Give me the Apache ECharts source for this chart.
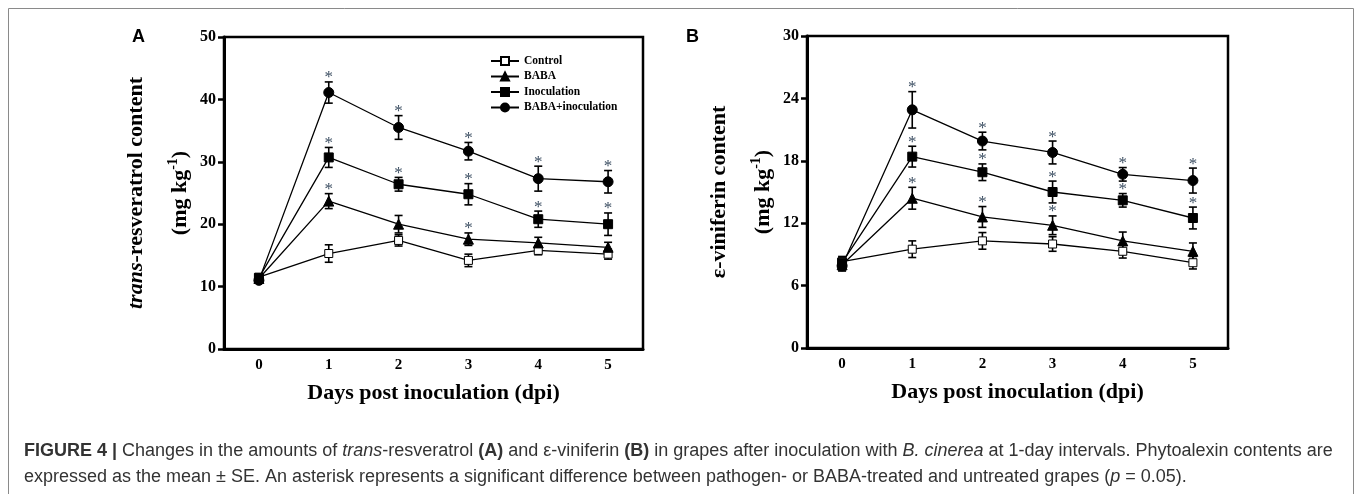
<!DOCTYPE html>
<html>
<head>
<meta charset="utf-8">
<style>
  html, body { margin: 0; padding: 0; background: #fff; }
  #chart { width: 1357px; height: 494px; }
</style>
<script src="https://cdn.jsdelivr.net/npm/echarts@6/dist/echarts.min.js"></script>
</head>
<body>
<div id="chart"></div>
<script>
// x categories (days post inoculation)
const days = ['0', '1', '2', '3', '4', '5'];
const names = ['Control', 'BABA', 'Inoculation', 'BABA+inoculation'];

// A: trans-resveratrol, mean and SE
const resControl = [11.5, 15.3, 17.4, 14.2, 15.8, 15.2];
const resControlErr = [0.4, 1.4, 0.9, 1.0, 0.7, 0.8];
const resBaba = [11.3, 23.7, 20.0, 17.6, 17.0, 16.3];
const resBabaErr = [0.4, 1.2, 1.4, 1.0, 0.9, 0.8];
const resInoc = [11.4, 30.7, 26.4, 24.8, 20.8, 20.0];
const resInocErr = [0.4, 1.6, 1.1, 1.7, 1.3, 1.8];
const resBabaInoc = [11.0, 41.1, 35.5, 31.7, 27.3, 26.8];
const resBabaInocErr = [0.4, 1.7, 1.9, 1.4, 2.0, 1.8];
// asterisks (1 = significant)
const resControlSig = [0, 0, 0, 0, 0, 0];
const resBabaSig = [0, 1, 0, 1, 0, 0];
const resInocSig = [0, 1, 1, 1, 1, 1];
const resBabaInocSig = [0, 1, 1, 1, 1, 1];

// B: ε-viniferin, mean and SE
const vinControl = [8.3, 9.5, 10.3, 10.0, 9.3, 8.2];
const vinControlErr = [0.5, 0.8, 0.8, 0.7, 0.65, 0.6];
const vinBaba = [8.0, 14.4, 12.6, 11.8, 10.3, 9.3];
const vinBabaErr = [0.5, 1.05, 1.0, 0.9, 0.85, 0.8];
const vinInoc = [8.2, 18.4, 16.9, 15.0, 14.2, 12.5];
const vinInocErr = [0.5, 1.0, 0.8, 1.05, 0.65, 1.05];
const vinBabaInoc = [7.9, 22.9, 19.9, 18.8, 16.7, 16.1];
const vinBabaInocErr = [0.5, 1.75, 0.85, 1.1, 0.65, 1.2];
const vinControlSig = [0, 0, 0, 0, 0, 0];
const vinBabaSig = [0, 1, 1, 1, 0, 0];
const vinInocSig = [0, 1, 1, 1, 1, 1];
const vinBabaInocSig = [0, 1, 1, 1, 1, 1];

// y axis ticks
const resTicks = { min: 0, max: 50, interval: 10 };
const vinTicks = { min: 0, max: 30, interval: 6 };

const serif = '"Liberation Serif", "Times New Roman", serif';
const sans = '"Liberation Sans", Arial, sans-serif';
const starColor = '#3d4f63';

const markers = [
  { symbol: 'rect', size: 8, fill: '#fff' },
  { symbol: 'triangle', size: 10, fill: '#000' },
  { symbol: 'rect', size: 9, fill: '#000' },
  { symbol: 'circle', size: 10, fill: '#000' }
];

function errorBars(params, api) {
  const x = api.value(0);
  const m = api.value(1);
  const e = api.value(2);
  const top = api.coord([x, m + e]);
  const bot = api.coord([x, m - e]);
  const w = 4;
  const ln = (x1, y1, x2, y2) => ({
    type: 'line',
    shape: { x1: x1, y1: y1, x2: x2, y2: y2 },
    style: { stroke: '#000', lineWidth: 1.6 }
  });
  const children = [
    ln(top[0], top[1], bot[0], bot[1]),
    ln(top[0] - w, top[1], top[0] + w, top[1]),
    ln(bot[0] - w, bot[1], bot[0] + w, bot[1])
  ];
  if (api.value(3)) {
    children.push({
      type: 'text',
      x: top[0],
      y: top[1] - 4,
      style: {
        text: '*', fill: starColor, font: '17px ' + serif,
        align: 'center', verticalAlign: 'middle'
      }
    });
  }
  return { type: 'group', children: children };
}

function buildSeries(gridIdx, groups) {
  const out = [];
  groups.forEach((g) => {
    out.push({
      type: 'custom',
      xAxisIndex: gridIdx, yAxisIndex: gridIdx,
      z: 1,
      renderItem: errorBars,
      encode: { x: 0, y: 1 },
      data: g.mean.map((v, i) => [i, v, g.err[i], g.sig[i]])
    });
  });
  groups.forEach((g, k) => {
    out.push({
      type: 'line',
      name: names[k],
      xAxisIndex: gridIdx, yAxisIndex: gridIdx,
      z: 3,
      data: g.mean,
      symbol: markers[k].symbol,
      symbolSize: markers[k].size,
      showAllSymbol: true,
      lineStyle: { color: '#000', width: 1.3 },
      itemStyle: { color: markers[k].fill, borderColor: '#000', borderWidth: 1, opacity: 1 },
      emphasis: { disabled: true }
    });
  });
  return out;
}

function xAx(gridIdx) {
  return {
    type: 'category', gridIndex: gridIdx, data: days,
    boundaryGap: true,
    name: 'Days post inoculation (dpi)',
    nameLocation: 'middle', nameGap: 33,
    nameTextStyle: { fontFamily: serif, fontWeight: 'bold', fontSize: 22, color: '#000' },
    axisLine: { lineStyle: { color: '#000', width: 3 } },
    axisTick: { alignWithLabel: true, inside: true, length: 6, lineStyle: { color: '#000', width: 2.5 } },
    axisLabel: { margin: 9, fontFamily: serif, fontWeight: 'bold', fontSize: 15, color: '#000' },
    splitLine: { show: false }
  };
}

function yAx(gridIdx, ticks, title) {
  return {
    type: 'value', gridIndex: gridIdx,
    min: ticks.min, max: ticks.max, interval: ticks.interval,
    name: title,
    nameLocation: 'middle', nameRotate: 90, nameGap: 22,
    nameMoveOverlap: false,
    nameTextStyle: {
      fontFamily: serif, fontWeight: 'bold', fontSize: 22, color: '#000', lineHeight: 44,
      rich: {
        i: { fontFamily: serif, fontWeight: 'bold', fontStyle: 'italic', fontSize: 22, color: '#000', lineHeight: 44 },
        n: { fontFamily: serif, fontWeight: 'bold', fontSize: 22, color: '#000', lineHeight: 44 },
        sup: { fontFamily: serif, fontWeight: 'bold', fontSize: 14, color: '#000', lineHeight: 44, padding: [0, 0, 14, 0] }
      }
    },
    axisLine: { show: true, lineStyle: { color: '#000', width: 3 } },
    axisTick: { show: true, inside: false, length: 6, lineStyle: { color: '#000', width: 2.5 } },
    axisLabel: { margin: 8, fontFamily: serif, fontWeight: 'bold', fontSize: 16, color: '#000' },
    splitLine: { show: false }
  };
}

const chart = echarts.init(document.getElementById('chart'), null, { renderer: 'canvas' });

chart.setOption({
  animation: false,
  backgroundColor: '#fff',
  legend: {
    data: names,
    orient: 'vertical',
    left: 490, top: 55,
    itemWidth: 28, itemHeight: 10, itemGap: 3.5,
    padding: 0,
    selectedMode: false,
    textStyle: { fontFamily: serif, fontWeight: 'bold', fontSize: 11.5, color: '#000' }
  },
  grid: [
    { left: 224, top: 37, width: 419, height: 312, show: true, borderColor: '#000', borderWidth: 2.5, backgroundColor: 'transparent' },
    { left: 807, top: 36, width: 421, height: 312, show: true, borderColor: '#000', borderWidth: 2.5, backgroundColor: 'transparent' }
  ],
  xAxis: [xAx(0), xAx(1)],
  yAxis: [
    yAx(0, resTicks, '{i|trans}{n|-resveratrol content}\n{n|(mg kg}{sup|-1}{n|)}'),
    yAx(1, vinTicks, '{n|ε-viniferin content}\n{n|(mg kg}{sup|-1}{n|)}')
  ],
  series: buildSeries(0, [
    { mean: resControl, err: resControlErr, sig: resControlSig },
    { mean: resBaba, err: resBabaErr, sig: resBabaSig },
    { mean: resInoc, err: resInocErr, sig: resInocSig },
    { mean: resBabaInoc, err: resBabaInocErr, sig: resBabaInocSig }
  ]).concat(buildSeries(1, [
    { mean: vinControl, err: vinControlErr, sig: vinControlSig },
    { mean: vinBaba, err: vinBabaErr, sig: vinBabaSig },
    { mean: vinInoc, err: vinInocErr, sig: vinInocSig },
    { mean: vinBabaInoc, err: vinBabaInocErr, sig: vinBabaInocSig }
  ])),
  graphic: [
    {
      type: 'rect', silent: true, z: -1,
      shape: { x: 8.5, y: 8.5, width: 1345, height: 600 },
      style: { fill: 'none', stroke: '#8a8a8a', lineWidth: 1 }
    },
    {
      type: 'text', left: 132, top: 28, silent: true,
      style: { text: 'A', font: 'bold 18px ' + sans, fill: '#000' }
    },
    {
      type: 'text', left: 686, top: 28, silent: true,
      style: { text: 'B', font: 'bold 18px ' + sans, fill: '#000' }
    },
    {
      type: 'text', left: 24, top: 442, silent: true,
      style: {
        text: '{b|FIGURE 4 |} Changes in the amounts of {i|trans}-resveratrol {b|(A)} and ε-viniferin {b|(B)} in grapes after inoculation with {i|B. cinerea} at 1-day intervals. Phytoalexin contents are',
        font: '18px ' + sans, fill: '#333',
        rich: {
          b: { fontFamily: sans, fontWeight: 'bold', fontSize: 18, fill: '#333' },
          i: { fontFamily: sans, fontStyle: 'italic', fontSize: 18, fill: '#333' }
        }
      }
    },
    {
      type: 'text', left: 24, top: 468, silent: true,
      style: {
        text: 'expressed as the mean ± SE. An asterisk represents a significant difference between pathogen- or BABA-treated and untreated grapes ({i|p} = 0.05).',
        font: '18px ' + sans, fill: '#333',
        rich: {
          i: { fontFamily: sans, fontStyle: 'italic', fontSize: 18, fill: '#333' }
        }
      }
    }
  ]
});
</script>
</body>
</html>
